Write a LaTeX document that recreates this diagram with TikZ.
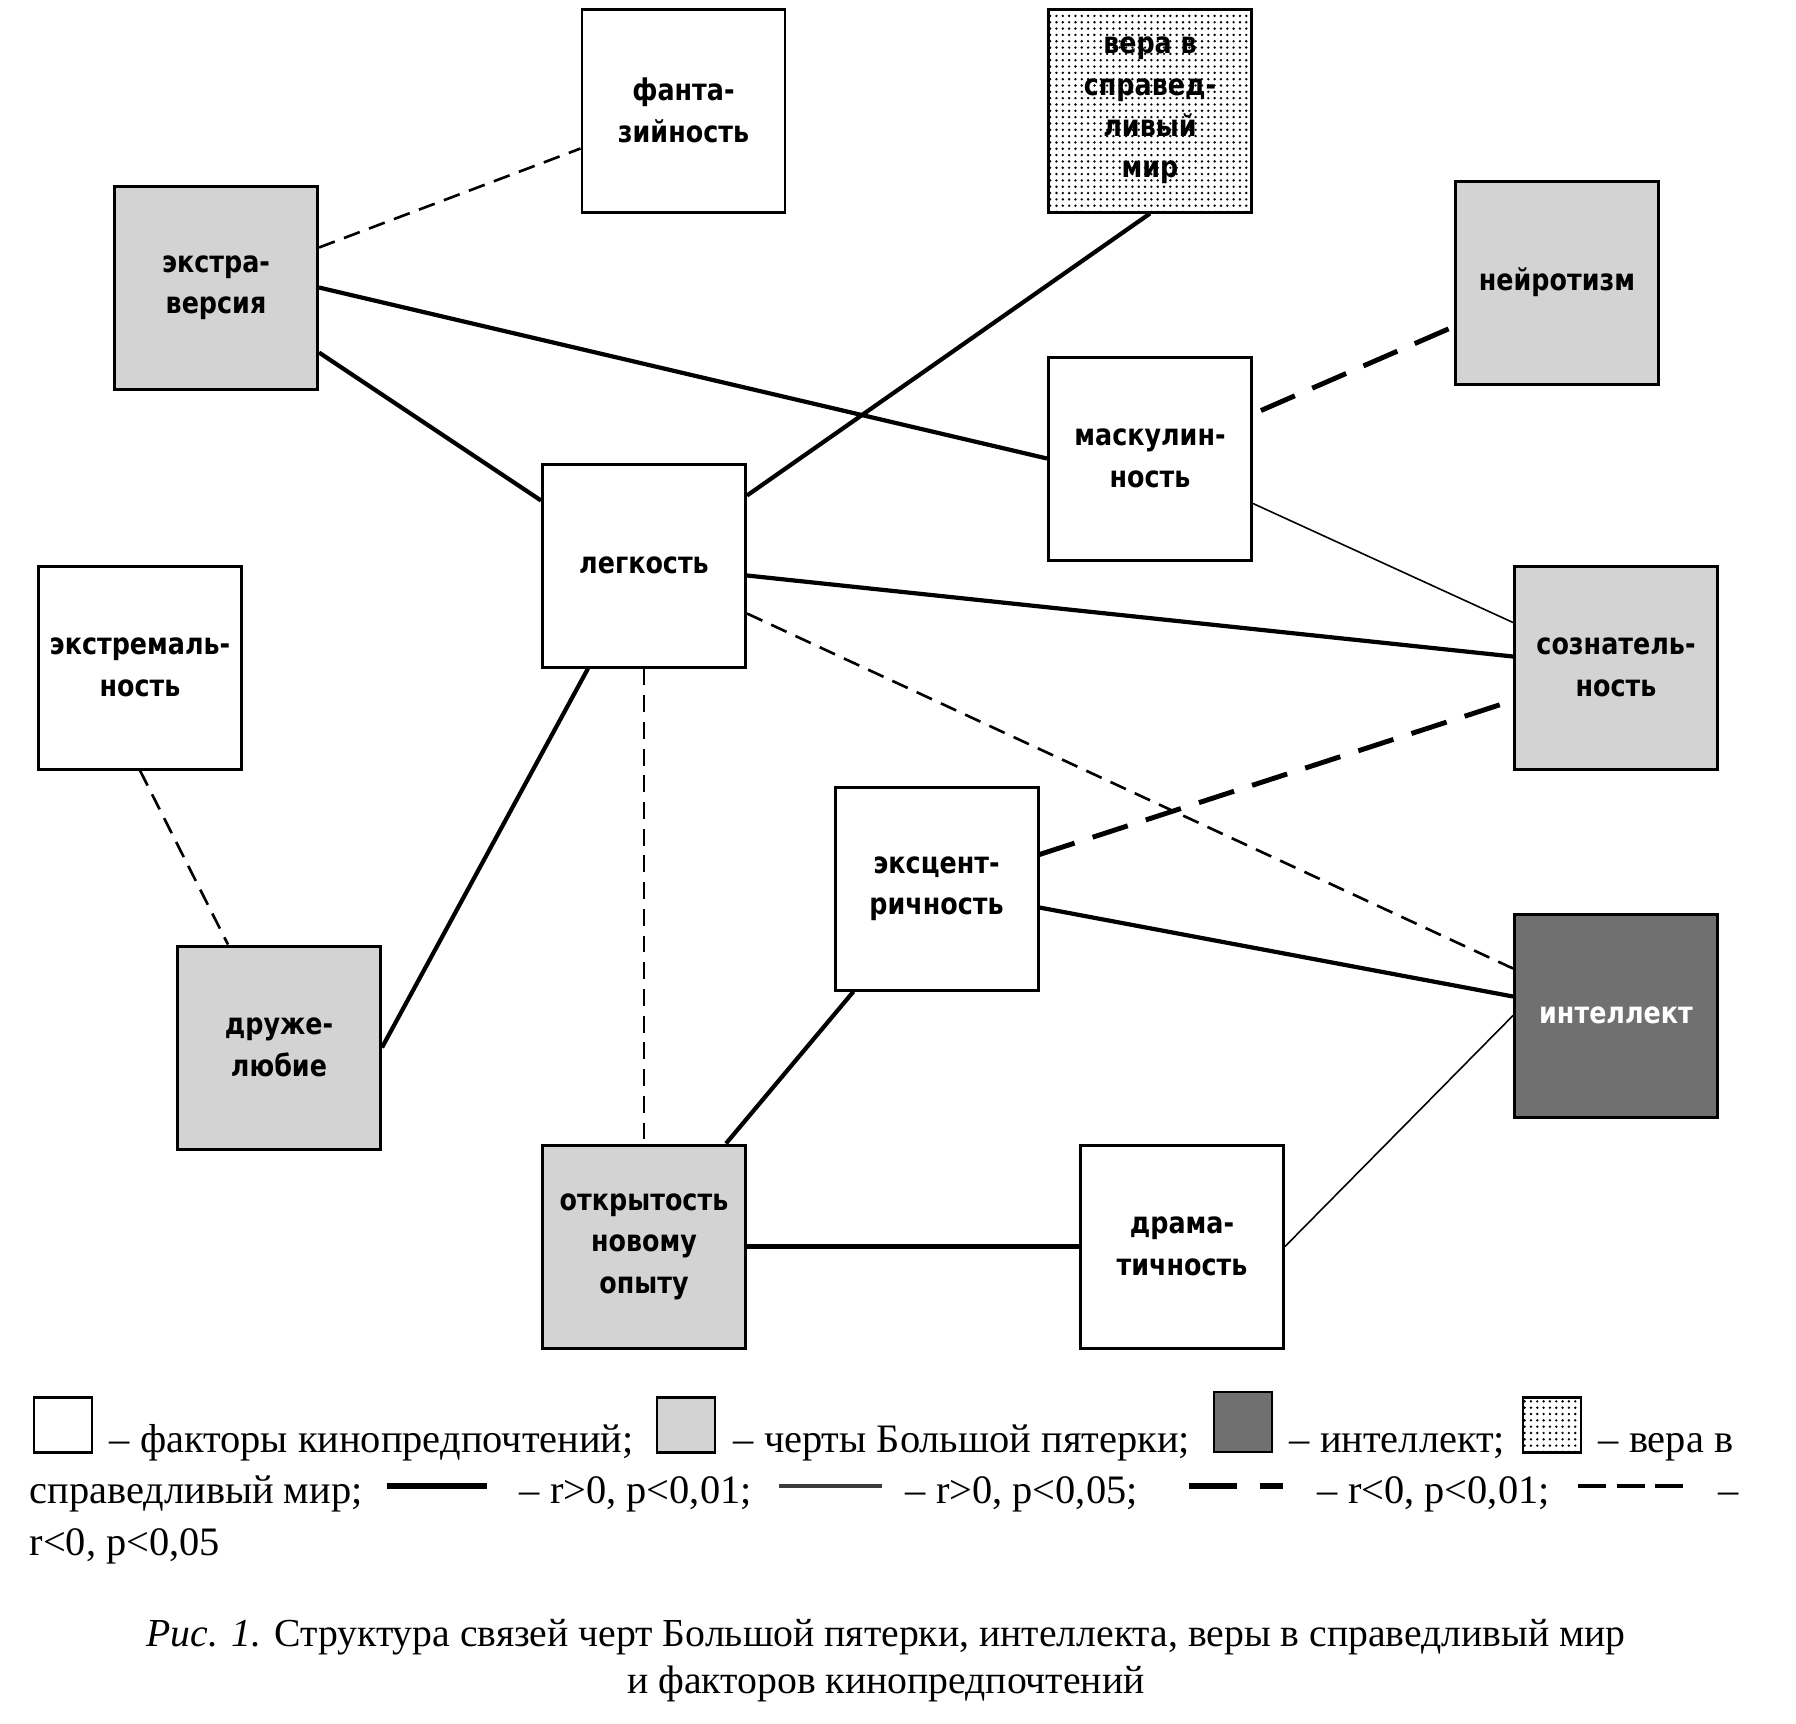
\documentclass[tikz,border=0pt]{standalone}
\usepackage{fontspec}
\setmainfont{Liberation Serif}
\newfontfamily\boxfont[FakeStretch=0.85]{DejaVu Sans}
\usetikzlibrary{calc,patterns.meta}
\definecolor{traitgrey}{HTML}{D3D3D3}
\definecolor{intelgrey}{HTML}{707070}
\definecolor{thingrey}{HTML}{3C3C3C}
\tikzset{every node/.style={font=\fontsize{11.5}{13.5}\selectfont},
  tbox/.style={draw,line width=.85pt,minimum size=20.3mm,inner sep=0pt,align=center,
    font=\boxfont\bfseries\fontsize{8.5}{11.8}\selectfont},
  film/.style={tbox,fill=white},
  trait/.style={tbox,fill=traitgrey},
  iq/.style={tbox,fill=intelgrey,text=white},
  world/.style={tbox,pattern={Dots[distance=1.8pt,radius=.38pt]}},
  strongpos/.style={line width=1.2pt},
  weakpos/.style={line width=.45pt},
  strongneg/.style={line width=1.4pt,dash pattern=on 10.5pt off 5.4pt},
  weakneg/.style={line width=.75pt,dash pattern=on 4.8pt off 2.8pt},
  legtext/.style={anchor=base west,inner sep=0pt},
  swatch/.style={draw,line width=.8pt,minimum width=5.8mm,minimum height=5.5mm,inner sep=0pt}}

\begin{document}
\begin{tikzpicture}[x=.1mm,y=-.1mm]
\path[fill=white,use as bounding box] (0,0) rectangle (1796,1724);
% factors, traits
\node[film] (fant) at (683.5,110.5) {фанта-\\зийность};
\node[world] (vera) at (1150,110.5) {вера в\\справед-\\ливый\\мир};
\node[trait] (extra) at (216,287.5) {экстра-\\версия};
\node[trait] (neuro) at (1557,282.5) {нейротизм};
\node[film] (masc) at (1150,458.5) {маскулин-\\ность};
\node[film] (legk) at (644,565.5) {легкость};
\node[film] (extrem) at (140,667.5) {экстремаль-\\ность};
\node[trait] (soznat) at (1616,667.5) {сознатель-\\ность};
\node[film] (eksc) at (936.5,888.5) {эксцент-\\ричность};
\node[iq] (intel) at (1616,1015.5) {интеллект};
\node[trait] (druzh) at (279,1047.5) {друже-\\любие};
\node[trait] (otkr) at (644,1246.5) {открытость\\новому\\опыту};
\node[film] (drama) at (1182,1246.5) {драма-\\тичность};
% links
\draw[strongpos] (extra.east)--(masc.west);
\draw[strongpos] ($(extra.east)+(0,65)$)--($(legk.west)+(0,-65)$);
\draw[strongpos] ($(legk.east)+(0,-70)$)--(vera.south);
\draw[strongpos] ($(legk.east)+(0,10)$)--($(soznat.west)+(0,-11)$);
\draw[strongpos] ($(eksc.east)+(0,19)$)--($(intel.west)+(0,-19)$);
\draw[strongpos] ($(eksc.south)+(-83,0)$)--($(otkr.north)+(82,0)$);
\draw[strongpos] ($(legk.south)+(-56,0)$)--(druzh.east);
\draw[strongpos] (otkr.east)--(drama.west);
\draw[weakpos] ($(masc.east)+(0,45)$)--($(soznat.west)+(0,-45)$);
\draw[weakpos] (drama.east)--(intel.west);
\draw[strongneg] ($(masc.east)+(8,-48)$)--($(neuro.west)+(0,44)$);
\draw[strongneg] ($(eksc.east)+(0,-34)$)--($(soznat.west)+(0,33)$);
\draw[weakneg] ($(extra.east)+(0,-40)$)--($(fant.west)+(0,38)$);
\draw[weakneg] ($(legk.east)+(0,48)$)--($(intel.west)+(0,-47)$);
\draw[weakneg] (legk.south)--(otkr.north);
\draw[weakneg] (extrem.south)--($(druzh.north)+(-51,0)$);
% legend
\node[swatch,fill=white] (swfilm) at (63,1425) {};
\node[legtext] (tfilm) at (109,1452) {– факторы кинопредпочтений;};
\node[swatch,fill=traitgrey] (swtrait) at (686,1425) {};
\node[legtext] (ttrait) at (733,1452) {– черты Большой пятерки;};
\node[swatch,fill=intelgrey,minimum height=6mm] (swiq) at (1243,1422) {};
\node[legtext] (tiq) at (1289,1452) {– интеллект;};
\node[swatch,pattern={Dots[distance=1.8pt,radius=.38pt]}] (swworld) at (1552,1425) {};
\node[legtext] (tworld) at (1598,1452) {– вера в};
\node[legtext] (tworld2) at (29,1503) {справедливый мир;};
\coordinate (la) at (387,1486); \coordinate (lb) at (487,1486);
\draw[line width=1.7pt] (la)--(lb);
\node[legtext] (tsp) at (519,1503) {– r>0, p<0,01;};
\coordinate (lc) at (779,1486); \coordinate (ld) at (882,1486);
\draw[thingrey,line width=1pt] (lc)--(ld);
\node[legtext] (twp) at (905,1503) {– r>0, p<0,05;};
\coordinate (le) at (1189,1486); \coordinate (lf) at (1285,1486);
\draw[line width=1.7pt,dash pattern=on 13.7pt off 6.5pt on 6.5pt off 20pt] (le)--(lf);
\node[legtext] (tsn) at (1317,1503) {– r<0, p<0,01;};
\coordinate (lg) at (1578,1486); \coordinate (lh) at (1684,1486);
\draw[line width=1.4pt,dash pattern=on 8pt off 3pt] (lg)--(lh);
\node[legtext] (twn) at (1718,1503) {–};
\node[legtext] (twn2) at (29,1555) {r<0, p<0,05};
% caption
\node[anchor=base,font=\fontsize{11.3}{13.5}\selectfont] (cap1) at (886,1646) {\textit{Рис. 1.} Структура связей черт Большой пятерки, интеллекта, веры в справедливый мир};
\node[anchor=base,font=\fontsize{11.3}{13.5}\selectfont] (cap2) at (886,1693) {и факторов кинопредпочтений};
\end{tikzpicture}
\end{document}
